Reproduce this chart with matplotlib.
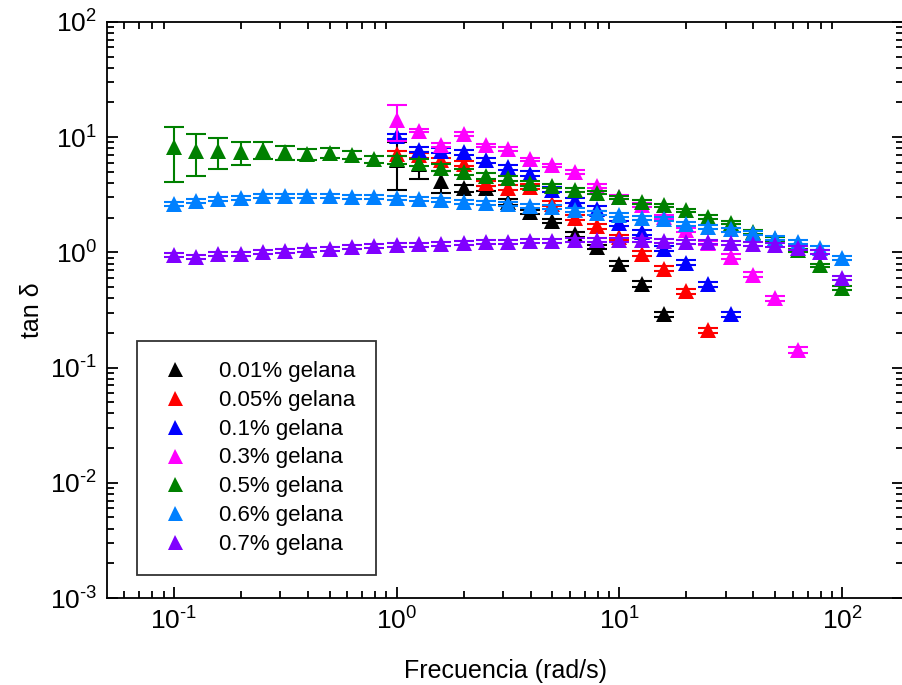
import numpy as np
import matplotlib
matplotlib.use("Agg")
import matplotlib.pyplot as plt
from matplotlib.ticker import LogLocator, NullFormatter, FuncFormatter

plt.rcParams['font.family'] = ['Liberation Sans', 'DejaVu Sans']
plt.rcParams['mathtext.fontset'] = 'custom'
plt.rcParams['mathtext.rm'] = 'Liberation Sans'
plt.rcParams['mathtext.it'] = 'Liberation Sans'
plt.rcParams['mathtext.default'] = 'regular'

# angular frequency grid (rad/s), 10 points per decade
freq = [0.1, 0.126, 0.158, 0.2, 0.251, 0.316, 0.398, 0.501, 0.631, 0.794,
        1.0, 1.26, 1.58, 2.0, 2.51, 3.16, 3.98, 5.01, 6.31, 7.94,
        10.0, 12.6, 15.8, 20.0, 25.1, 31.6, 39.8, 50.1, 63.1, 79.4, 100.0]

labels = ["0.01% gelana", "0.05% gelana", "0.1% gelana", "0.3% gelana",
          "0.5% gelana", "0.6% gelana", "0.7% gelana"]
colors = ["#000000", "#ff0000", "#0000ff", "#ff00ff", "#008000", "#0080ff", "#8000ff"]

# tan delta for each concentration (starting index into freq, values)
tan_001_start = 10
tan_001 = [6.3, 5.9, 4.17, 3.6, 3.6, 2.75, 2.24, 1.87, 1.43, 1.11, 0.80, 0.53, 0.29]
err_001 = [2.8, 1.6, 0.9, 0.25, 0.2, 0.15, 0.1, 0.08, 0.06, 0.05, 0.04, 0.03, 0.015]

tan_005_start = 10
tan_005 = [7.2, 7.0, 6.3, 5.9, 4.0, 3.65, 3.7, 2.65, 1.99, 1.68, 1.36, 0.97, 0.72,
           0.46, 0.21]

tan_01_start = 10
tan_01 = [10.2, 7.8, 7.6, 7.4, 6.3, 5.5, 4.8, 3.5, 2.83, 2.4, 1.8, 1.5, 1.08,
          0.81, 0.53, 0.29]

tan_03_start = 10
tan_03 = [14.1, 11.4, 8.6, 10.6, 8.5, 7.9, 6.4, 5.7, 5.0, 3.8, 3.05, 2.56, 2.03,
          1.57, 1.2, 0.92, 0.64, 0.40, 0.143]
err_03 = [4.9, 0.4, 0.35, 0.4, 0.3, 0.3, 0.25, 0.2, 0.2, 0.15, 0.12, 0.1, 0.08,
          0.06, 0.05, 0.04, 0.03, 0.02, 0.008]

tan_05_start = 0
tan_05 = [8.2, 7.6, 7.6, 7.4, 7.8, 7.4, 7.1, 7.3, 7.0, 6.4,
          6.4, 6.0, 5.45, 5.0, 4.6, 4.4, 4.0, 3.8, 3.5, 3.3,
          3.0, 2.74, 2.56, 2.32, 2.03, 1.81, 1.50, 1.30, 1.04, 0.77, 0.49]
err_05 = [4.1, 3.0, 2.3, 1.7, 1.3, 1.05, 0.8, 0.7, 0.6, 0.4,
          0.5, 0.4, 0.35, 0.3, 0.25, 0.2, 0.2, 0.15, 0.15, 0.12,
          0.1, 0.1, 0.09, 0.08, 0.07, 0.06, 0.05, 0.05, 0.04, 0.03, 0.02]

tan_06_start = 0
tan_06 = [2.65, 2.79, 2.9, 2.99, 3.07, 3.09, 3.07, 3.07, 3.03, 3.0,
          2.99, 2.89, 2.83, 2.74, 2.68, 2.65, 2.51, 2.48, 2.35, 2.2,
          2.1, 2.0, 1.94, 1.78, 1.66, 1.58, 1.48, 1.34, 1.23, 1.10, 0.90]

tan_07_start = 0
tan_07 = [0.94, 0.91, 0.96, 0.96, 1.0, 1.03, 1.05, 1.08, 1.11, 1.13,
          1.16, 1.17, 1.19, 1.2, 1.23, 1.23, 1.25, 1.25, 1.27, 1.29,
          1.28, 1.27, 1.25, 1.23, 1.23, 1.2, 1.19, 1.15, 1.1, 1.0, 0.60]

# relative size of the small error bars where no explicit list is given
rel_err = {1: 0.05, 2: 0.05, 5: 0.04, 6: 0.04}

series = [
    (tan_001_start, tan_001, err_001),
    (tan_005_start, tan_005, None),
    (tan_01_start, tan_01, None),
    (tan_03_start, tan_03, err_03),
    (tan_05_start, tan_05, err_05),
    (tan_06_start, tan_06, None),
    (tan_07_start, tan_07, None),
]

fig = plt.figure(figsize=(9.03, 6.85), dpi=100)
ax = fig.add_axes([0.1185, 0.127, 0.8815, 0.841])

for i, (start, vals, err) in enumerate(series):
    x = np.array(freq[start:start + len(vals)])
    y = np.array(vals)
    e = np.array(err) if err is not None else y * rel_err[i]
    ax.errorbar(x, y, yerr=e, fmt='none', ecolor=colors[i],
                elinewidth=1.5, capsize=7, capthick=1.5, zorder=2 + 2 * i)
    ax.plot(x, y, linestyle='none', marker='^', color=colors[i],
            markersize=12, markeredgewidth=0, label=labels[i], zorder=3 + 2 * i)

ax.set_xscale('log')
ax.set_yscale('log')
ax.set_xlim(0.0501, 187.7)
ax.set_ylim(1e-3, 1e2)

def sci(v, pos):
    return r'10$^{\text{%d}}$' % int(round(np.log10(v)))

for axis in (ax.xaxis, ax.yaxis):
    axis.set_major_locator(LogLocator(base=10, numticks=20))
    axis.set_minor_locator(LogLocator(base=10, subs=np.arange(2, 10), numticks=20))
    axis.set_major_formatter(FuncFormatter(sci))
    axis.set_minor_formatter(NullFormatter())

ax.tick_params(which='both', direction='in', width=1.3, labelsize=19, color='black')
ax.tick_params(which='major', length=8, pad=7)
ax.tick_params(which='minor', length=5)
ax.tick_params(axis='y', which='both', left=True, right=True)
ax.tick_params(axis='x', which='minor', bottom=True, top=True)
ax.tick_params(axis='x', which='major', bottom=True, top=False)

for sp in ax.spines.values():
    sp.set_linewidth(1.3)

ax.set_xlabel('Frecuencia (rad/s)', fontsize=18, labelpad=17)
ax.set_ylabel('tan δ', fontsize=18, labelpad=4)

leg = ax.legend(loc='upper left', bbox_to_anchor=(137 / 903, 1 - 341 / 685),
                bbox_transform=fig.transFigure, borderaxespad=0,
                fontsize=16, frameon=True, fancybox=False, edgecolor='black',
                handletextpad=1.2, handlelength=1.6, labelspacing=0.35,
                borderpad=0.9, numpoints=1, markerscale=0.9)
leg.get_frame().set_linewidth(1.3)

fig.savefig('out.png', dpi=100)
